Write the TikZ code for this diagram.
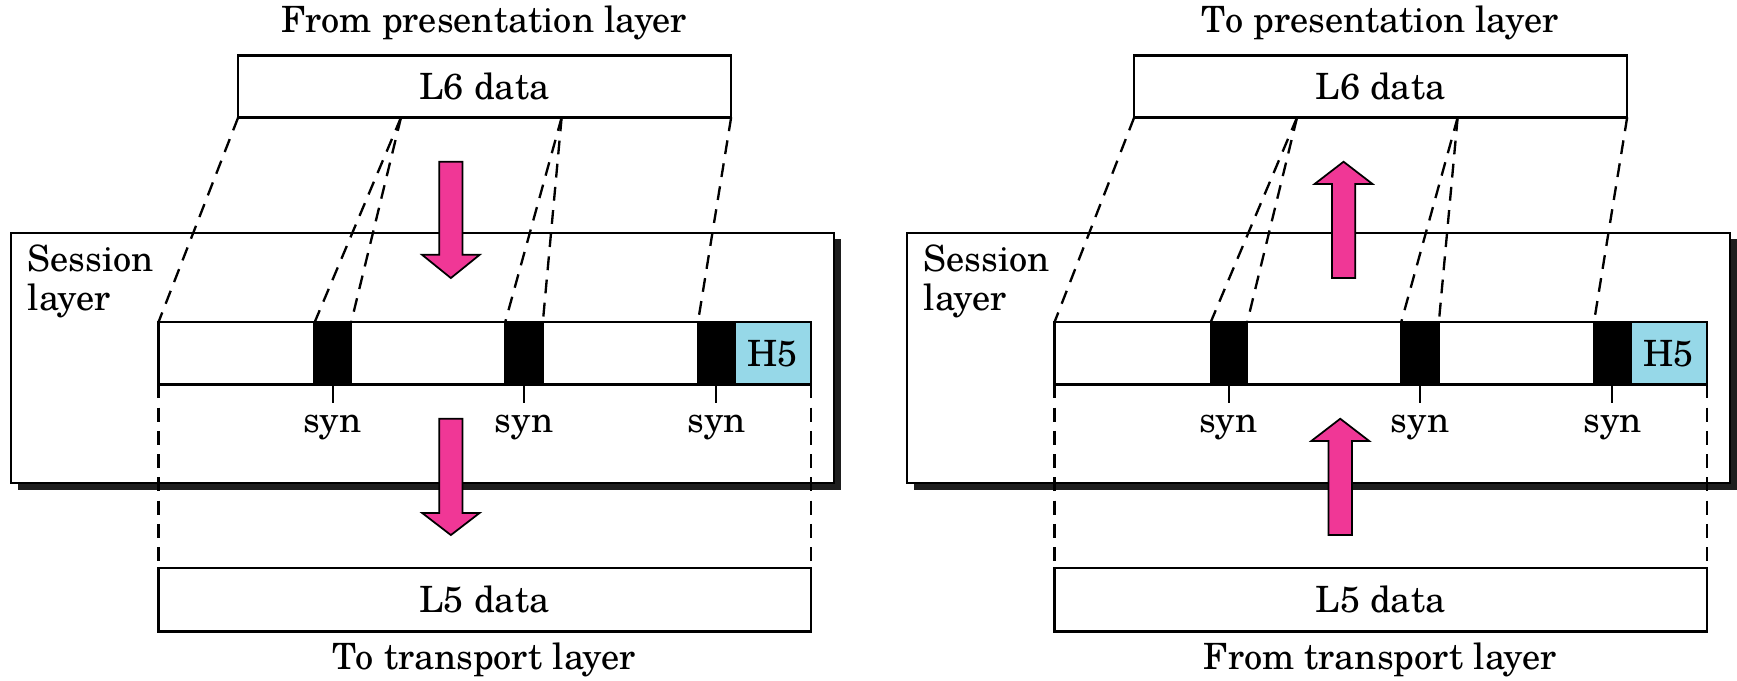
\documentclass[tikz,border=0pt]{standalone}
\usepackage{fontspec}
\setmainfont{TeX Gyre Schola}
\usetikzlibrary{fit}

\definecolor{arrowpink}{RGB}{240,55,150}
\definecolor{headercyan}{RGB}{150,216,232}
\definecolor{shadowgray}{RGB}{30,30,30}

\tikzset{
  box/.style={draw, line width=1.15pt, inner sep=0pt, outer sep=0pt, fill=white},
  synblock/.style={draw, line width=1.15pt, inner sep=0pt, outer sep=0pt, fill=black},
  hdrbox/.style={draw, line width=1.15pt, inner sep=0pt, outer sep=0pt, fill=headercyan},
  txt/.style={inner sep=0pt, outer sep=0pt},
  mapline/.style={line width=1.2pt, dash pattern=on 0.25cm off 0.17cm},
  tick/.style={line width=1.15pt},
  fatarrowstyle/.style={draw, line width=0.9pt, fill=arrowpink, line join=miter},
}

% one half of the figure: boxes, labels and dashed mapping lines
\newcommand\sessionpanel[2]{%
  \node[txt, anchor=base] (toptxt) at (437,29) {#1};
  \node[box, fit={(215,50) (660,106)}] (l6) {};
  \node[txt] (l6txt) at (l6.center) {L6 data};
  \coordinate (d1) at (362,106);
  \coordinate (d2) at (507,106);
  % session layer frame with its drop shadow
  \fill[shadowgray] (16,216) rectangle (759,442);
  \node[box, fit={(10,210) (753,436)}] (sess) {};
  \node[txt, anchor=base west] (sessA) at (25,245) {Session};
  \node[txt, anchor=base west] (sessB) at (25,280) {layer};
  % session data unit
  \node[box, fit={(143,291) (732,347)}] (strip) {};
  \node[synblock, fit={(284,291) (317,347)}] (s1) {};
  \node[synblock, fit={(456,291) (490,347)}] (s2) {};
  \node[synblock, fit={(630,291) (663,347)}] (s3) {};
  \node[hdrbox, fit={(663,291) (732,347)}] (h5) {};
  \node[txt] (h5txt) at (h5.center) {H5};
  \draw[tick] (s1.south) -- ++(0,17) coordinate (k1);
  \draw[tick] (s2.south) -- ++(0,17) coordinate (k2);
  \draw[tick] (s3.south) -- ++(0,17) coordinate (k3);
  \node[txt, anchor=base] (syn1) at (300,390) {syn};
  \node[txt, anchor=base] (syn2) at (473,390) {syn};
  \node[txt, anchor=base] (syn3) at (647,390) {syn};
  % lower layer unit
  \node[box, fit={(143,513) (732,570)}] (l5) {};
  \node[txt] (l5txt) at (l5.center) {L5 data};
  \node[txt, anchor=base] (bottxt) at (437,604) {#2};
  % dashed mapping lines
  \draw[mapline] (l6.south west) -- (strip.north west);
  \draw[mapline] (d1) -- (s1.north west);
  \draw[mapline] (d1) -- (s1.north east);
  \draw[mapline] (d2) -- (s2.north west);
  \draw[mapline] (d2) -- (s2.north east);
  \draw[mapline] (l6.south east) -- (s3.north west);
  \draw[mapline] (strip.south west) -- (l5.north west);
  \draw[mapline] (strip.south east) -- (l5.north east);
}

% block arrow: #1 centre x, #2 tail y, #3 head base y, #4 tip y
\newcommand\fatarrow[4]{%
  \draw[fatarrowstyle] (#1-10.5,#2) -- (#1-10.5,#3) -- (#1-26,#3) -- (#1,#4)
    -- (#1+26,#3) -- (#1+10.5,#3) -- (#1+10.5,#2) -- cycle;
}

\begin{document}
\begin{tikzpicture}[x=0.02cm, y=-0.02cm, font=\fontsize{18.6}{21}\selectfont]
  \useasboundingbox (0,0) rectangle (1568,614);

  % sending side
  \begin{scope}[name prefix=snd-]
    \sessionpanel{From presentation layer}{To transport layer}
    \fatarrow{407}{146}{230}{251}
    \fatarrow{407}{378}{463}{483}
  \end{scope}

  % receiving side
  \begin{scope}[xshift=16.18cm, name prefix=rcv-]
    \sessionpanel{To presentation layer}{From transport layer}
    \fatarrow{404}{251}{166}{146}
    \fatarrow{401}{483}{398}{378}
  \end{scope}
\end{tikzpicture}
\end{document}
